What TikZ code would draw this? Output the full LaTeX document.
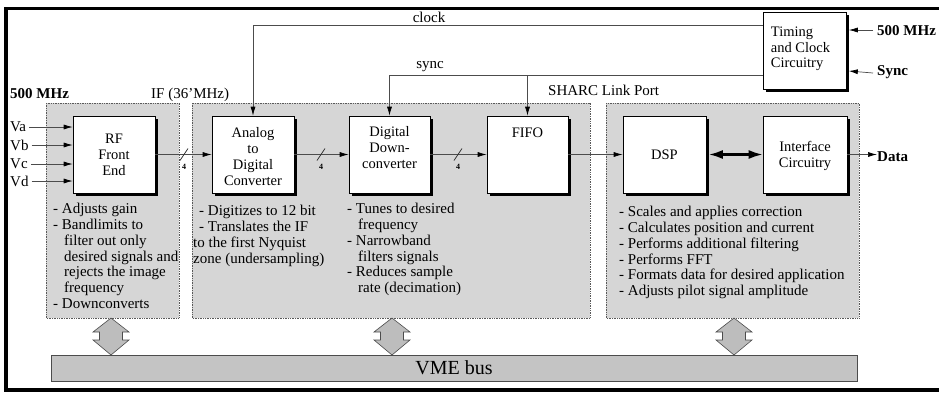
\documentclass[tikz,border=0pt]{standalone}
\usepackage{fontspec}
\setmainfont{Liberation Serif}
\usetikzlibrary{arrows.meta,shadows}
\begin{document}
\begin{tikzpicture}[x=1pt,y=-1pt,
  panel/.style={draw=black!65, densely dotted, line width=0.7pt, fill=black!16},
  box/.style={draw=black, line width=0.6pt, fill=white, minimum width=82pt, minimum height=77pt, inner sep=0pt,
    drop shadow={shadow xshift=2.5pt, shadow yshift=-2.5pt, fill=black, opacity=1}},
  lbl/.style={font=\fontsize{14.5}{16}\selectfont, align=center, inner sep=0pt},
  tlbl/.style={font=\fontsize{14.5}{15.5}\selectfont, align=left, inner sep=0pt},
  lst/.style={font=\fontsize{15}{15.8}\selectfont, align=left, inner sep=0pt, anchor=north west},
  txt/.style={font=\fontsize{15}{16}\selectfont, inner sep=0pt},
  btxt/.style={font=\fontsize{15}{16}\selectfont\bfseries, inner sep=0pt},
  small/.style={font=\fontsize{8}{8}\selectfont\bfseries, inner sep=0pt},
  sig/.style={draw=black!70, line width=0.7pt, -{Latex[length=9pt,width=5pt,color=black]}},
  slash/.style={draw=black!80, line width=0.8pt},
  bus/.style={draw=black!70, line width=0.6pt, fill=black!26},
  thickarrow/.style={draw=black, line width=2.2pt, {Latex[length=14pt,width=9pt]}-{Latex[length=14pt,width=9pt]}}
]
\useasboundingbox (0,0) rectangle (939,392);

% outer frame
\draw[line width=3.5pt] (945,8.3) -- (6,8.3) -- (6,390) -- (945,390);

% panels
\draw[panel] (46,103) rectangle (179,318);
\draw[panel] (192,103) rectangle (590,318);
\draw[panel] (606,103) rectangle (859,318);

% VME bus
\node[draw=black!70, line width=0.6pt, fill=black!23, minimum width=806pt, minimum height=26pt, inner sep=0pt,
      font=\fontsize{20}{22}\selectfont] (vme) at (454,368) {VME bus};

% bus arrows
\foreach \cx in {111,392,734}{
  \draw[bus] (\cx,318) -- (\cx+18,332) -- (\cx+11.5,332) -- (\cx+11.5,340) -- (\cx+18,340) -- (\cx,355)
     -- (\cx-18,340) -- (\cx-11.5,340) -- (\cx-11.5,332) -- (\cx-18,332) -- cycle;
}

% boxes
\node[box] (rf) at (114,154.5) {};
\node[box] (adc) at (253,154.5) {};
\node[box, minimum width=81pt] (ddc) at (389.5,154.5) {};
\node[box, minimum width=81pt] (fifo) at (527.5,154.5) {};
\node[box, minimum width=83pt] (dsp) at (664.5,154.5) {};
\node[box, minimum width=84pt] (intf) at (805,154.5) {};
\node[box, minimum width=83pt] (timing) at (804.5,50.5) {};

% box labels
\node[lbl] (rfl) at (114,155) {RF\\Front\\End};
\node[lbl, anchor=north] (adcl) at ([yshift=-12pt]adc.north) {Analog\\to\\Digital\\Converter};
\node[lbl, anchor=north] (ddcl) at ([yshift=-11pt]ddc.north) {Digital\\Down-\\converter};
\node[lbl, anchor=north] (fifol) at ([yshift=-12pt]fifo.north) {FIFO};
\node[lbl] (dspl) at (dsp) {DSP};
\node[lbl] (intfl) at ([yshift=-1pt]intf.center) {Interface\\Circuitry};
\node[tlbl, anchor=north west] (timl) at ([xshift=8pt,yshift=-15pt]timing.north west) {Timing\\and Clock\\Circuitry};

% top labels
\node[btxt, anchor=base west] (l500) at (10,98) {500 MHz};
\node[txt, anchor=base west] (lif) at (151,98) {IF (36'MHz)};
\node[txt, anchor=base west] (lsharc) at (548,95) {SHARC Link Port};
\node[txt] (lclock) at (429,17) {clock};
\node[txt] (lsync) at (430,67) {sync};

% inputs
\node[txt, anchor=west] (va) at (10,127) {Va};
\node[txt, anchor=west] (vb) at (10,145) {Vb};
\node[txt, anchor=west] (vc) at (10,164) {Vc};
\node[txt, anchor=west] (vd) at (10,181) {Vd};
\foreach \v in {va,vb,vc,vd}{
  \draw[sig] ([xshift=3pt]\v.east) -- (rf.west |- \v.east);
}

% timing inputs
\node[btxt, anchor=west] (t500) at (877,31) {500 MHz};
\node[btxt, anchor=west] (tsync) at (877,72) {Sync};
\draw[sig] ([xshift=-4pt,yshift=1pt]t500.west) -- ([xshift=2.5pt]timing.east |- 0,30);
\draw[sig] ([xshift=-4pt,yshift=-1pt]tsync.west) -- ([xshift=2.5pt]timing.east |- 0,71);

% clock and sync
\coordinate (clk) at ([yshift=-14pt]timing.north west);
\coordinate (syn) at ([yshift=14pt]timing.south west);
\draw[sig] (clk) -| (adc.north);
\draw[sig] (syn) -| (ddc.north);
\draw[sig] (fifo.north |- syn) -- (fifo.north);

% data path
\draw[sig] (rf.east) -- (adc.west);
\draw[sig] (adc.east) -- (ddc.west);
\draw[sig] (ddc.east) -- (fifo.west);
\draw[sig] (fifo.east) -- (dsp.west);
\draw[thickarrow] ([xshift=2.5pt]dsp.east) -- (intf.west);
\node[btxt, anchor=west] (data) at (877,157) {Data};
\draw[sig] (intf.east) -- (intf.east -| data.west);

% bus width marks
\foreach \sx/\nm in {184/s1,321/s2,458/s3}{
  \coordinate (\nm) at (\sx,154.5);
  \draw[slash] (\nm) +(-4,6) -- +(4,-6);
  \node[small] at (\sx,167) {4};
}

% lists
\node[lst] (rflist) at (53,203) {- Adjusts gain\\- Bandlimits to\\\hspace*{11pt}filter out only\\\hspace*{11pt}desired signals and\\\hspace*{11pt}rejects the image\\\hspace*{11pt}frequency\\- Downconverts};
\node[lst] (adclist) at (193,205) {\hspace*{6pt}- Digitizes to 12 bit\\\hspace*{6pt}- Translates the IF\\to the first Nyquist\\zone (undersampling)};
\node[lst] (ddclist) at (347,203) {- Tunes to desired\\\hspace*{11pt}frequency\\- Narrowband\\\hspace*{11pt}filters signals\\- Reduces sample\\\hspace*{11pt}rate (decimation)};
\node[lst] (dsplist) at (619,206) {- Scales and applies correction\\- Calculates position and current\\- Performs additional filtering\\- Performs FFT\\- Formats data for desired application\\- Adjusts pilot signal amplitude};
\end{tikzpicture}
\end{document}
